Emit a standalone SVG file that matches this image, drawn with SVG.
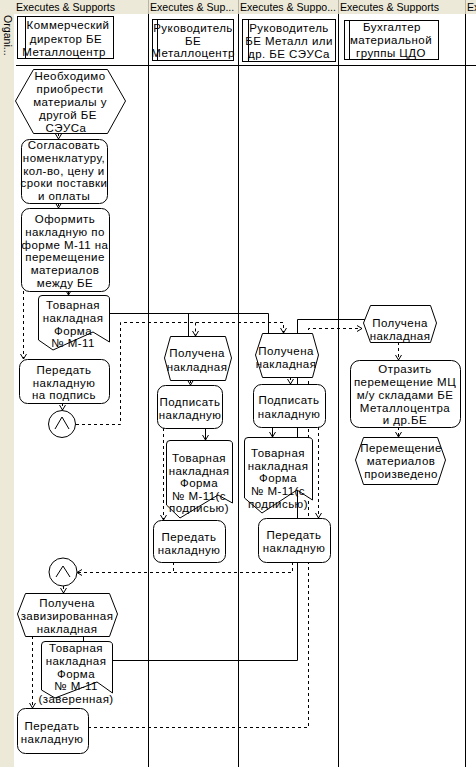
<svg xmlns="http://www.w3.org/2000/svg" width="476" height="767" viewBox="0 0 476 767">
<style>
.t{font-family:"Liberation Sans",Arial,sans-serif;font-size:11.5px;letter-spacing:0.45px;fill:#000;text-anchor:middle}
.h{font-family:"Liberation Sans",Arial,sans-serif;font-size:10.6px;fill:#000}
.n{fill:#fff;stroke:#000;stroke-width:1}
.s{fill:none;stroke:#000;stroke-width:1}
.d{fill:none;stroke:#000;stroke-width:1;stroke-dasharray:3,3}
.ln{stroke:#000;stroke-width:1;shape-rendering:crispEdges}
.hs{stroke:#B8B4A4;stroke-width:1;shape-rendering:crispEdges}
</style>
<defs>
<marker id="a" markerWidth="8" markerHeight="8" refX="7" refY="4" orient="auto" markerUnits="userSpaceOnUse"><path d="M2,1 L7,4 L2,7" fill="none" stroke="#000" stroke-width="1"/></marker>
</defs>
<g id="background">
<rect x="0" y="0" width="476" height="767" fill="#fff"/>
<rect x="0" y="0" width="14" height="767" fill="#ECE9D8"/>
<rect x="0" y="0" width="476" height="14" fill="#ECE9D8"/>
<line class="hs" x1="148.5" y1="0" x2="148.5" y2="14"/>
<line class="hs" x1="238.5" y1="0" x2="238.5" y2="14"/>
<line class="hs" x1="338.5" y1="0" x2="338.5" y2="14"/>
<line class="hs" x1="465.5" y1="0" x2="465.5" y2="14"/>
<text class="h" x="16" y="11">Executes &amp; Supports</text>
<text class="h" x="150" y="11">Executes &amp; Sup...</text>
<text class="h" x="240" y="11">Executes &amp; Suppo...</text>
<text class="h" x="340" y="11">Executes &amp; Supports</text>
<text class="h" x="467" y="11">Ex</text>
<text class="h" transform="translate(4,15) rotate(90)">Organi...</text>
</g>
<g id="lanes">
<line class="ln" x1="148.5" y1="14" x2="148.5" y2="767"/>
<line class="ln" x1="238.5" y1="14" x2="238.5" y2="767"/>
<line class="ln" x1="338.5" y1="14" x2="338.5" y2="767"/>
<line class="ln" x1="465.5" y1="14" x2="465.5" y2="767"/>
<line class="ln" x1="16" y1="65.5" x2="476" y2="65.5"/>
</g>
<g id="connectors">
<path class="s" d="M68.5,291 V295" marker-end="url(#a)"/>
<path class="s" d="M109,313.5 H268.5 V333"/>
<path class="s" d="M188.5,313.5 V336"/>
<path class="s" d="M112,660.5 H297.5 V319.5 H366"/>
<path class="s" d="M205.5,428 V440" marker-end="url(#a)"/>
<path class="s" d="M272.5,427 V437" marker-end="url(#a)"/>
<path class="s" d="M83.5,636 V641"/>
<path class="d" d="M58.5,133 V139" marker-end="url(#a)"/>
<path class="d" d="M58.5,203 V208" marker-end="url(#a)"/>
<path class="d" d="M23.5,291 V359" marker-end="url(#a)"/>
<path class="d" d="M62.5,403 V410" marker-end="url(#a)"/>
<path class="d" d="M76,424.5 H120.5 V322.5 H283.5 V333" marker-end="url(#a)"/>
<path class="d" d="M195.5,322.5 V336" marker-end="url(#a)"/>
<path class="d" d="M88,727.5 H308.5 V328.5 H362" marker-end="url(#a)"/>
<path class="d" d="M190.5,380 V385" marker-end="url(#a)"/>
<path class="d" d="M163.5,428 V520" marker-end="url(#a)"/>
<path class="d" d="M173.5,562 V572.5"/>
<path class="d" d="M292.5,562 V572.5 H77" marker-end="url(#a)"/>
<path class="d" d="M290.5,377 V384" marker-end="url(#a)"/>
<path class="d" d="M318.5,427 V518" marker-end="url(#a)"/>
<path class="d" d="M398.5,342 V360" marker-end="url(#a)"/>
<path class="d" d="M398.5,427 V437" marker-end="url(#a)"/>
<path class="d" d="M63.5,586 V593" marker-end="url(#a)"/>
<path class="d" d="M32.5,636 V708" marker-end="url(#a)"/>
</g>
<g id="role1">
<rect class="n" x="17.5" y="16.5" width="96" height="42"/>
<line class="s" x1="25.5" y1="16.5" x2="25.5" y2="58.5"/>
<text class="t" x="68" y="29">Коммерческий</text>
<text class="t" x="66" y="43">директор БЕ</text>
<text class="t" x="64" y="56">Металлоцентр</text>
</g>
<g id="role2">
<rect class="n" x="152.5" y="19.5" width="81" height="41"/>
<line class="s" x1="157.5" y1="19.5" x2="157.5" y2="60.5"/>
<text class="t" x="193" y="32">Руководитель</text>
<text class="t" x="193" y="45">БЕ</text>
<text class="t" x="193" y="57">Металлоцентр</text>
</g>
<g id="role3">
<rect class="n" x="242.5" y="19.5" width="93" height="42"/>
<line class="s" x1="248.5" y1="19.5" x2="248.5" y2="61.5"/>
<text class="t" x="289" y="32">Руководитель</text>
<text class="t" x="289" y="45">БЕ Металл или</text>
<text class="t" x="289" y="58">др. БЕ СЭУСа</text>
</g>
<g id="role4">
<rect class="n" x="344.5" y="20.5" width="94" height="39"/>
<line class="s" x1="349.5" y1="20.5" x2="349.5" y2="59.5"/>
<text class="t" x="392" y="31">Бухгалтер</text>
<text class="t" x="391" y="44">материальной</text>
<text class="t" x="391" y="57">группы ЦДО</text>
</g>
<g id="ev-need">
<polygon class="n" points="15.5,101 33.5,69.5 107.5,69.5 125.5,101 107.5,133.5 33.5,133.5"/>
<text class="t" x="70" y="80">Необходимо</text>
<text class="t" x="70" y="93">приобрести</text>
<text class="t" x="70" y="106">материалы у</text>
<text class="t" x="68" y="119">другой БЕ</text>
<text class="t" x="66" y="132">СЭУСа</text>
</g>
<g id="fn-agree">
<rect class="n" x="21.5" y="139.5" width="86" height="64" rx="8"/>
<text class="t" x="64" y="149">Согласовать</text>
<text class="t" x="64" y="162">номенклатуру,</text>
<text class="t" x="64" y="175">кол-во, цену и</text>
<text class="t" x="64" y="187">сроки поставки</text>
<text class="t" x="64" y="200">и оплаты</text>
</g>
<g id="fn-issue">
<rect class="n" x="21.5" y="208.5" width="88" height="83" rx="8"/>
<text class="t" x="65" y="223">Оформить</text>
<text class="t" x="65" y="236">накладную по</text>
<text class="t" x="65" y="249">форме М-11 на</text>
<text class="t" x="65" y="261">перемещение</text>
<text class="t" x="65" y="274">материалов</text>
<text class="t" x="65" y="287">между  БЕ</text>
</g>
<g id="doc1">
<path class="n" d="M38.5,299 Q38.5,295.5 42,295.5 L105,295.5 Q109.5,295.5 109.5,299 L109.5,342 L93,332 L53,350 L38.5,340 Z"/>
<text class="t" x="73" y="309">Товарная</text>
<text class="t" x="73" y="322">накладная</text>
<text class="t" x="73" y="335">Форма</text>
<text class="t" x="73" y="347">№ М-11</text>
</g>
<g id="fn-sign-pass">
<rect class="n" x="19.5" y="359.5" width="90" height="44" rx="8"/>
<text class="t" x="64" y="374">Передать</text>
<text class="t" x="64" y="387">накладную</text>
<text class="t" x="64" y="399">на подпись</text>
</g>
<g id="and1">
<circle class="n" cx="62" cy="424" r="13.5"/>
<polyline class="s" points="55,429 62,417 69,429"/>
</g>
<g id="ev-got2">
<polygon class="n" points="164.5,358 170.5,336.5 225.5,336.5 231.5,358 225.5,380.5 170.5,380.5"/>
<text class="t" x="197" y="357">Получена</text>
<text class="t" x="197" y="371">накладная</text>
</g>
<g id="fn-sign2">
<rect class="n" x="157.5" y="385.5" width="65" height="43" rx="8"/>
<text class="t" x="190" y="406">Подписать</text>
<text class="t" x="190" y="419">накладную</text>
</g>
<g id="doc2">
<path class="n" d="M166.5,444 Q166.5,440.5 170,440.5 L228,440.5 Q232.5,440.5 232.5,444 L232.5,503 L218,495 L180,518 L166.5,505 Z"/>
<text class="t" x="199" y="462">Товарная</text>
<text class="t" x="199" y="475">накладная</text>
<text class="t" x="199" y="487">Форма</text>
<text class="t" x="199" y="500">№ М-11(с</text>
<text class="t" x="199" y="512">подписью)</text>
</g>
<g id="fn-pass2">
<rect class="n" x="153.5" y="520.5" width="72" height="42" rx="8"/>
<text class="t" x="189" y="541">Передать</text>
<text class="t" x="189" y="554">накладную</text>
</g>
<g id="ev-got3">
<polygon class="n" points="255.5,355 262.5,333.5 312.5,333.5 318.5,355 312.5,377.5 262.5,377.5"/>
<text class="t" x="286" y="355">Получена</text>
<text class="t" x="286" y="368">накладная</text>
</g>
<g id="fn-sign3">
<rect class="n" x="253.5" y="384.5" width="72" height="43" rx="8"/>
<text class="t" x="289" y="404">Подписать</text>
<text class="t" x="289" y="418">накладную</text>
</g>
<g id="doc3">
<path class="n" d="M244.5,441 Q244.5,437.5 248,437.5 L308,437.5 Q312.5,437.5 312.5,441 L312.5,500 L297,490 L262,513 L244.5,498 Z"/>
<text class="t" x="278" y="457">Товарная</text>
<text class="t" x="278" y="470">накладная</text>
<text class="t" x="278" y="482">Форма</text>
<text class="t" x="278" y="495">№ М-11(с</text>
<text class="t" x="278" y="508">подписью)</text>
</g>
<g id="fn-pass3">
<rect class="n" x="258.5" y="518.5" width="72" height="44" rx="8"/>
<text class="t" x="294" y="539">Передать</text>
<text class="t" x="294" y="552">накладную</text>
</g>
<g id="ev-got4">
<polygon class="n" points="363.5,323 370.5,305.5 430.5,305.5 436.5,323 430.5,342.5 370.5,342.5"/>
<text class="t" x="400" y="327">Получена</text>
<text class="t" x="400" y="340">накладная</text>
</g>
<g id="fn-reflect">
<rect class="n" x="350.5" y="360.5" width="110" height="67" rx="9"/>
<text class="t" x="405" y="373">Отразить</text>
<text class="t" x="405" y="386">перемещение МЦ</text>
<text class="t" x="405" y="399">м/у  складами БЕ</text>
<text class="t" x="405" y="412">Металлоцентра</text>
<text class="t" x="405" y="424">и др.БЕ</text>
</g>
<g id="ev-done">
<polygon class="n" points="355.5,460 363.5,437.5 437.5,437.5 445.5,460 437.5,484.5 363.5,484.5"/>
<text class="t" x="401" y="452">Перемещение</text>
<text class="t" x="401" y="465">материалов</text>
<text class="t" x="401" y="478">произведено</text>
</g>
<g id="and2">
<circle class="n" cx="63" cy="572" r="14"/>
<polyline class="s" points="56,577 63,566 70,577"/>
</g>
<g id="ev-visa">
<polygon class="n" points="17.5,614 25.5,593.5 109.5,593.5 117.5,614 109.5,636.5 25.5,636.5"/>
<text class="t" x="67" y="607">Получена</text>
<text class="t" x="67" y="620">завизированная</text>
<text class="t" x="67" y="633">накладная</text>
</g>
<g id="doc4">
<path class="n" d="M41.5,645 Q41.5,641.5 45,641.5 L108,641.5 Q112.5,641.5 112.5,645 L112.5,693 L97,682 L55,698 L41.5,690 Z"/>
<text class="t" x="76" y="652">Товарная</text>
<text class="t" x="76" y="665">накладная</text>
<text class="t" x="76" y="678">Форма</text>
<text class="t" x="76" y="690">№ М-11</text>
<text class="t" x="76" y="703">(заверенная)</text>
</g>
<g id="fn-pass1">
<rect class="n" x="17.5" y="708.5" width="71" height="45" rx="8"/>
<text class="t" x="52" y="730">Передать</text>
<text class="t" x="52" y="743">накладную</text>
</g>
</svg>
